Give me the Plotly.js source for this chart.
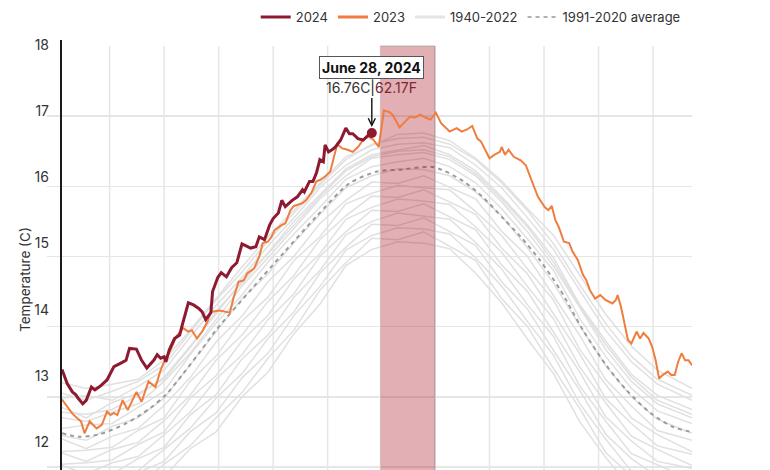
<!DOCTYPE html>
<html><head><meta charset="utf-8">
<script src="https://cdn.plot.ly/plotly-3.0.1.min.js"></script>
<style>html,body{margin:0;padding:0;background:#fff}#chart{width:770px;height:470px}</style>
</head><body><div id="chart"></div>
<script>
// ---- data (day of year, °C) ----
const days2024 = [1,4,7,9,10,13,15,18,20,23,27,31,35,38,40,44,47,50,54,56,58,60,61,63,66,69,70,74,77,80,82,84,87,88,91,93,96,99,102,105,110,113,115,118,121,123,126,128,130,132,134,137,140,141,144,146,148,150,152,153,155,157,159,162,165,167,169,172,175,178,180];
const temp2024 = [13.39,13.19,13.07,13.03,12.99,12.90,12.95,13.14,13.10,13.15,13.24,13.43,13.48,13.52,13.69,13.68,13.52,13.41,13.52,13.60,13.55,13.57,13.50,13.67,13.83,13.88,13.98,14.34,14.31,14.26,14.21,14.10,14.20,14.50,14.70,14.77,14.71,14.84,14.91,15.18,15.12,15.14,15.28,15.24,15.45,15.54,15.62,15.80,15.71,15.76,15.80,15.85,15.95,15.92,16.07,16.07,16.19,16.38,16.35,16.59,16.49,16.52,16.56,16.66,16.83,16.75,16.75,16.68,16.66,16.73,16.76];

const days2023 = [1,4,7,10,12,14,17,21,24,27,29,31,33,36,39,44,47,51,55,58,60,64,67,71,74,76,79,82,85,87,92,98,100,103,106,108,112,115,117,120,122,124,128,130,133,135,138,140,142,145,148,150,153,156,160,163,166,169,172,175,178,181,184,187,190,192,196,199,202,205,208,211,214,217,220,225,229,232,235,238,241,243,245,248,251,254,255,257,259,262,266,269,273,276,280,282,284,286,288,291,294,296,299,302,304,306,309,312,315,319,321,322,324,326,328,330,333,335,337,340,342,344,346,348,351,353,355,357,359,361,363,365];
const temp2023 = [12.96,12.86,12.76,12.69,12.65,12.48,12.65,12.55,12.60,12.79,12.74,12.77,12.74,12.95,12.81,13.07,12.93,13.22,13.14,13.38,13.50,13.68,13.86,13.98,13.93,13.95,13.83,13.93,14.07,14.21,14.23,14.20,14.40,14.64,14.66,14.76,14.83,15.00,15.19,15.21,15.28,15.38,15.45,15.47,15.66,15.72,15.74,15.76,15.80,15.90,16.07,16.09,16.14,16.21,16.60,16.54,16.52,16.49,16.56,16.66,16.71,16.66,16.56,17.08,17.06,17.02,16.84,16.92,16.99,16.98,17.02,16.98,16.95,17.05,16.90,16.78,16.83,16.78,16.81,16.86,16.68,16.64,16.54,16.40,16.45,16.49,16.56,16.45,16.52,16.42,16.37,16.30,16.04,15.85,15.70,15.66,15.72,15.52,15.42,15.21,15.19,15.07,14.95,14.74,14.66,14.52,14.40,14.45,14.38,14.33,14.38,14.45,14.28,14.05,13.81,13.76,13.93,13.83,13.91,13.83,13.71,13.52,13.26,13.31,13.36,13.31,13.31,13.50,13.62,13.52,13.52,13.45];

const daysAvg = [1,11,23,38,52,61,71,81,90,110,129,148,167,183,198,214,221,233,244,256,266,277,289,302,316,327,341,354,365];
const tempAvg = [12.48,12.43,12.47,12.62,12.84,13.03,13.33,13.65,13.95,14.52,15.05,15.57,16.04,16.21,16.24,16.28,16.23,16.07,15.85,15.54,15.28,14.95,14.52,13.95,13.43,13.10,12.77,12.57,12.50];

// 1940-2022: a sample of the gray bundle, read approximately
const daysHist = [1,15,30,45,60,75,90,105,120,135,150,165,180,195,210,225,240,255,270,285,300,315,330,345,365];
const hist01 = [13.20,13.12,13.18,13.25,13.52,13.95,14.40,14.85,15.28,15.66,16.05,16.42,16.58,16.74,16.76,16.65,16.40,16.08,15.68,15.30,14.74,14.18,13.72,13.38,13.12];
const hist02 = [13.05,12.95,13.08,13.22,13.45,13.92,14.38,14.78,15.22,15.62,16.02,16.38,16.60,16.68,16.70,16.60,16.38,16.05,15.65,15.18,14.60,14.05,13.58,13.25,13.02];
const hist03 = [12.98,13.02,12.95,13.15,13.38,13.85,14.30,14.70,15.15,15.55,15.98,16.30,16.52,16.60,16.62,16.55,16.30,15.98,15.55,15.10,14.52,13.95,13.50,13.18,12.95];
const hist04 = [12.85,12.70,12.92,13.05,13.25,13.70,14.22,14.62,15.05,15.50,15.88,16.25,16.45,16.52,16.58,16.45,16.22,15.85,15.45,14.98,14.32,13.80,13.32,13.02,12.82];
const hist05 = [12.78,12.75,12.82,13.02,13.28,13.72,14.18,14.65,15.04,15.45,15.85,16.22,16.42,16.50,16.52,16.42,16.18,15.82,15.42,14.92,14.30,13.75,13.28,12.95,12.75];
const hist06 = [12.70,12.65,12.78,12.90,13.22,13.62,14.10,14.58,14.98,15.40,15.82,16.15,16.40,16.45,16.48,16.38,16.15,15.78,15.35,14.86,14.28,13.68,13.22,12.90,12.70];
const hist07 = [12.55,12.60,12.62,12.85,13.08,13.60,14.05,14.45,14.92,15.32,15.70,16.10,16.28,16.35,16.40,16.28,16.05,15.68,15.25,14.80,14.12,13.58,13.12,12.80,12.62];
const hist08 = [12.45,12.38,12.58,12.70,12.98,13.45,13.92,14.40,14.75,15.20,15.60,15.98,16.15,16.25,16.24,16.15,15.92,15.58,15.12,14.62,14.02,13.45,13.00,12.68,12.48];
const hist09 = [12.40,12.26,12.44,12.55,12.88,13.27,13.78,14.15,14.64,15.00,15.47,15.80,16.06,16.04,16.15,15.98,15.82,15.36,15.00,14.44,13.88,13.25,12.87,12.52,12.38];
const hist10 = [12.22,12.24,12.28,12.52,12.70,13.22,13.58,14.08,14.42,14.94,15.28,15.75,15.90,16.01,15.98,15.95,15.64,15.30,14.82,14.38,13.68,13.18,12.70,12.46,12.22];
const hist11 = [12.20,12.08,12.25,12.35,12.66,13.02,13.52,13.88,14.36,14.73,15.24,15.58,15.86,15.84,15.95,15.78,15.60,15.12,14.75,14.18,13.62,12.98,12.62,12.30,12.18];
const hist12 = [12.04,12.06,12.10,12.32,12.50,12.98,13.30,13.80,14.16,14.68,15.04,15.53,15.70,15.82,15.79,15.74,15.42,15.06,14.57,14.11,13.43,12.92,12.44,12.25,12.02];
const hist13 = [12.02,11.90,12.06,12.15,12.46,12.78,13.25,13.60,14.10,14.47,15.00,15.35,15.66,15.64,15.75,15.57,15.38,14.88,14.50,13.92,13.36,12.72,12.37,12.08,11.98];
const hist14 = [11.86,11.88,11.90,12.12,12.28,12.74,13.03,13.54,13.88,14.42,14.80,15.31,15.50,15.62,15.58,15.53,15.20,14.82,14.31,13.86,13.16,12.66,12.19,12.03,11.82];
const hist15 = [11.84,11.72,11.87,11.95,12.25,12.55,12.98,13.33,13.83,14.21,14.76,15.13,15.46,15.44,15.55,15.36,15.16,14.64,14.25,13.66,13.10,12.47,12.12,11.86,11.78];
const hist16 = [11.68,11.70,11.72,11.92,12.08,12.50,12.77,13.27,13.62,14.16,14.57,15.09,15.30,15.41,15.39,15.32,14.98,14.58,14.07,13.59,12.91,12.40,11.94,11.80,11.62];
const hist17 = [11.66,11.55,11.68,11.75,12.04,12.30,12.70,13.06,13.55,13.95,14.52,14.91,15.26,15.24,15.35,15.15,14.94,14.40,14.00,13.40,12.84,12.21,11.87,11.64,11.58];
const hist18 = [11.50,11.52,11.52,11.72,11.86,12.26,12.50,13.00,13.35,13.90,14.32,14.87,15.10,15.21,15.19,15.11,14.76,14.34,13.82,13.33,12.65,12.14,11.69,11.58,11.42];
const histSeries = [hist01,hist02,hist03,hist04,hist05,hist06,hist07,hist08,hist09,hist10,hist11,hist12,hist13,hist14,hist15,hist16,hist17,hist18];

const highlightDays = [185, 216.5];
const gridDays = [28.5, 60, 91.5, 123, 154.5, 185, 216.5, 248, 279.5, 311, 342.5];
const yGrid = [12,13,14,15,16,17];
const yLabels = [12,13,14,15,16,17,18];
const markerDate = 'June 28, 2024';
const legendNames = ['2024','2023','1940-2022','1991-2020 average'];

// ---- styles ----
const C24 = '#8e1a32', C23 = '#ef7d3f', CHIST = '#e0e0e0', CAVG = '#9c9c9c', GRID = '#e6e6e6';

const traces = [];
histSeries.forEach(s => traces.push({
  x: daysHist, y: s, mode: 'lines', line: {color: CHIST, width: 1.5},
  showlegend: false, hoverinfo: 'skip'
}));
traces.push({x: daysAvg, y: tempAvg, mode: 'lines', line: {color: CAVG, width: 2, dash: '4px,4px', shape: 'spline', smoothing: 0.8}, showlegend: false, hoverinfo: 'skip'});
traces.push({x: [highlightDays[0], highlightDays[1], highlightDays[1], highlightDays[0]], y: [11.5, 11.5, 18, 18],
  mode: 'lines', fill: 'toself', fillcolor: 'rgba(170,20,35,0.34)', line: {color: 'rgba(140,140,140,0.55)', width: 1}, showlegend: false, hoverinfo: 'skip'});
traces.push({x: days2023, y: temp2023, mode: 'lines', line: {color: C23, width: 2}, showlegend: false});
traces.push({x: days2024, y: temp2024, mode: 'lines', line: {color: C24, width: 3}, showlegend: false});
const lastDay = days2024[days2024.length - 1], lastTemp = temp2024[temp2024.length - 1];
traces.push({x: [lastDay], y: [lastTemp], mode: 'markers', marker: {color: C24, size: 10}, showlegend: false});

// legend entries
const legStyles = [
  {color: C24, width: 3}, {color: C23, width: 3}, {color: '#e4e4e4', width: 3}, {color: '#b0b0b0', width: 2, dash: '4px,4px'}
];
legendNames.forEach((n, i) => traces.push({
  x: [null], y: [null], yaxis: 'y2', mode: 'lines', name: n, line: legStyles[i], legendrank: i + 1, hoverinfo: 'skip'
}));

const fahr = (lastTemp * 9 / 5 + 32).toFixed(2);

const layout = {
  width: 770, height: 470,
  margin: {l: 62, r: 78, t: 40, b: 0},
  paper_bgcolor: '#fff', plot_bgcolor: '#fff',
  font: {family: 'Inter, "Open Sans", sans-serif', color: '#333', size: 13},
  showlegend: true,
  legend: {orientation: 'h', x: 0.99, xanchor: 'right', y: 1.0535, yanchor: 'middle',
    font: {size: 13, color: '#333'}, itemwidth: 30, bgcolor: 'rgba(0,0,0,0)', traceorder: 'normal'},
  xaxis: {range: [1, 365], showgrid: false, zeroline: false, showticklabels: false, ticks: '', showline: false, fixedrange: true},
  yaxis: {range: [11.957, 18.085], tickvals: yGrid, showticklabels: false, ticks: 'outside', ticklen: 13,
    tickcolor: GRID, tickwidth: 1.5, gridcolor: GRID, gridwidth: 1.5, showline: true, linecolor: '#1a1a1a',
    linewidth: 2.5, zeroline: false, fixedrange: true},
  yaxis2: {overlaying: 'y', side: 'left', range: [11.577, 18.076], tickvals: yLabels, ticktext: yLabels.map(String),
    showgrid: false, zeroline: false, showline: false, ticks: '', ticklabelstandoff: 12,
    tickfont: {size: 14, color: '#333'}, fixedrange: true},
  shapes: gridDays.map(d => ({type: 'line', xref: 'x', yref: 'y', x0: d, x1: d, y0: 11.9, y1: 18,
    line: {color: GRID, width: 1.5}, layer: 'below'})),
  annotations: [
    {xref: 'paper', yref: 'paper', x: -0.0587, y: 0.442, text: 'Temperature (C)', textangle: -90,
      showarrow: false, xanchor: 'center', yanchor: 'middle', font: {size: 13.5, color: '#333'}},
    {x: lastDay, y: lastTemp, xref: 'x', yref: 'y', text: '<b>' + markerDate + '</b>', showarrow: false,
      yshift: 65, bordercolor: '#555', borderwidth: 1, borderpad: 2, bgcolor: '#fff', font: {size: 14, color: '#111'}},
    {x: lastDay, y: lastTemp, xref: 'x', yref: 'y',
      text: lastTemp.toFixed(2) + "C<span style='color:#222'>|</span><span style='color:#7a2833'>" + fahr + 'F</span>',
      showarrow: true, ax: 0, ay: -45, arrowhead: 5, arrowsize: 1, arrowwidth: 1.4, arrowcolor: '#111', standoff: 6,
      font: {size: 14, color: '#333'}}
  ]
};

Plotly.newPlot('chart', traces, layout, {displayModeBar: false, staticPlot: true});
</script>
</body></html>
